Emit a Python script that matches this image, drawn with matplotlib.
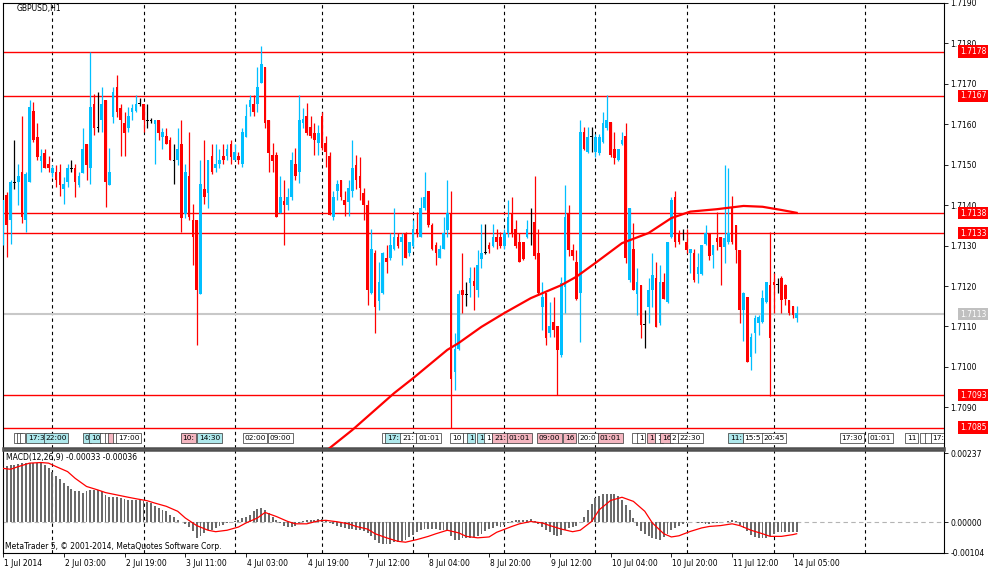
import matplotlib
matplotlib.use("Agg")
import matplotlib.pyplot as plt
import matplotlib.transforms as mtransforms
import numpy as np

# prices are kept in pips above 1.7080
BASE = 1.7080
PIP = 0.0001

opens = [
    54.6, 62.5, 56.3, 65.6, 65.8, 68.1, 56.3, 65.8, 83.3, 76.9,
    71.0, 73.0, 70.1, 68.0, 68.1, 68.1, 63.9, 65.8, 69.1, 69.1,
    64.9, 68.0, 75.1, 69.1, 85.1, 79.2, 81.0, 86.0, 65.0, 81.8,
    89.1, 84.1, 80.2, 79.2, 83.1, 83.3, 85.1, 85.1, 81.0, 80.9,
    80.0, 81.0, 76.9, 77.1, 76.2, 71.1, 71.1, 75.2, 57.9, 67.2,
    56.3, 56.3, 38.1, 64.1, 63.0, 72.1, 69.1, 70.1, 72.1, 72.1,
    75.1, 71.1, 72.1, 70.1, 76.9, 84.3, 85.1, 85.1, 90.1, 94.2,
    81.0, 72.3, 72.3, 58.0, 61.1, 60.1, 62.1, 70.2, 68.3, 80.3,
    82.1, 79.4, 77.9, 75.3, 82.1, 75.3, 72.2, 57.0, 63.4, 66.1,
    61.3, 60.9, 63.4, 70.0, 67.2, 63.1, 60.1, 38.2, 48.1, 36.2,
    38.2, 46.9, 46.9, 49.1, 52.2, 51.0, 53.2, 48.1, 49.9, 54.0,
    52.2, 59.2, 63.4, 55.1, 50.2, 46.9, 49.1, 53.8, 58.1, 18.8,
    24.3, 39.0, 37.7, 40.8, 41.3, 39.0, 46.6, 48.1, 50.2, 49.9,
    52.2, 52.2, 49.9, 53.2, 58.1, 54.2, 50.9, 50.9, 52.2, 54.0,
    55.9, 48.1, 34.9, 38.2, 28.3, 31.2, 30.1, 23.0, 39.8, 58.0,
    48.9, 46.0, 38.2, 78.1, 73.2, 76.9, 73.2, 72.8, 75.7, 79.0,
    80.6, 74.0, 71.2, 75.1, 77.1, 41.5, 49.1, 38.0, 40.3, 30.4,
    34.9, 39.0, 41.9, 30.8, 41.1, 36.1, 52.2, 62.1, 53.0, 51.3,
    50.9, 48.1, 48.1, 42.9, 42.9, 50.5, 53.0, 47.6, 51.8, 52.2,
    49.7, 50.9, 59.6, 55.1, 48.9, 34.1, 37.2, 22.5, 28.3, 30.8,
    31.2, 36.1, 40.2, 41.1, 40.2, 42.1, 40.3, 36.5, 35.0, 32.0,
]
highs = [
    61.2, 63.3, 66.2, 76.2, 70.1, 82.0, 68.2, 86.0, 85.5, 80.2,
    74.0, 74.0, 72.1, 69.9, 69.9, 70.1, 67.0, 70.1, 71.1, 70.1,
    68.2, 79.2, 75.2, 97.9, 87.6, 88.0, 89.1, 86.1, 74.1, 89.3,
    92.1, 85.1, 83.1, 84.3, 85.1, 87.2, 86.5, 85.1, 85.1, 81.5,
    81.0, 81.0, 79.2, 79.2, 76.9, 75.2, 79.2, 81.0, 70.1, 78.1,
    60.4, 56.3, 71.1, 76.2, 71.1, 75.1, 75.2, 74.0, 75.2, 75.1,
    76.2, 75.1, 73.1, 79.2, 85.1, 87.2, 87.2, 94.2, 99.4, 94.2,
    81.0, 75.3, 73.2, 67.2, 66.1, 64.2, 73.2, 74.1, 87.3, 84.0,
    85.2, 82.1, 80.3, 79.8, 83.1, 77.0, 73.2, 63.4, 66.1, 66.1,
    63.4, 66.1, 76.1, 72.4, 72.0, 64.2, 61.3, 54.0, 48.9, 46.0,
    48.3, 50.2, 53.2, 59.2, 53.2, 53.2, 53.4, 51.0, 56.3, 58.2,
    62.1, 68.3, 63.4, 55.5, 51.0, 50.2, 57.1, 66.1, 63.4, 28.3,
    39.0, 48.1, 41.1, 44.8, 44.8, 49.0, 55.3, 55.3, 51.0, 55.3,
    54.2, 53.4, 54.2, 61.2, 62.1, 56.3, 53.0, 50.9, 56.3, 59.2,
    67.2, 54.0, 41.1, 38.2, 36.1, 37.2, 30.1, 42.3, 65.1, 60.0,
    50.5, 48.9, 81.0, 79.4, 79.4, 79.4, 77.5, 77.7, 83.1, 87.2,
    80.6, 78.1, 74.0, 78.1, 80.2, 59.2, 55.5, 44.4, 40.3, 34.0,
    41.9, 48.1, 46.0, 45.2, 43.2, 50.9, 62.1, 63.4, 53.8, 54.0,
    54.0, 49.1, 49.1, 48.1, 50.2, 55.1, 53.0, 50.1, 58.4, 52.2,
    69.9, 69.1, 62.3, 55.1, 48.9, 38.6, 37.2, 28.3, 32.9, 32.9,
    39.0, 41.1, 53.3, 43.1, 42.1, 42.5, 40.4, 36.5, 35.0, 35.0,
]
lows = [
    50.1, 47.2, 50.3, 64.1, 60.0, 55.5, 53.4, 65.8, 75.7, 71.1,
    68.2, 69.1, 68.2, 67.0, 64.5, 62.2, 60.4, 64.5, 68.2, 62.1,
    64.5, 68.0, 66.2, 65.2, 77.3, 78.1, 78.1, 59.6, 64.9, 80.4,
    81.8, 72.1, 72.1, 78.1, 81.0, 83.1, 84.5, 78.1, 79.2, 80.2,
    70.1, 76.1, 74.0, 75.1, 71.1, 65.2, 69.9, 53.4, 56.7, 56.3,
    45.2, 25.4, 38.1, 60.4, 59.3, 67.8, 68.2, 69.1, 70.1, 71.1,
    70.1, 71.1, 70.1, 69.5, 76.9, 82.0, 82.0, 83.1, 90.1, 79.2,
    68.2, 68.3, 57.1, 58.0, 50.1, 58.8, 61.3, 66.2, 65.4, 79.0,
    77.4, 76.5, 72.4, 72.4, 73.7, 69.5, 57.6, 56.3, 61.3, 61.3,
    57.3, 57.3, 62.1, 63.9, 61.3, 56.3, 35.3, 38.0, 28.3, 34.1,
    38.0, 43.2, 46.5, 48.9, 49.3, 45.2, 46.9, 47.3, 49.7, 52.2,
    52.2, 58.8, 54.7, 48.9, 45.2, 46.9, 49.1, 52.2, 5.0, 14.2,
    24.1, 33.2, 35.0, 37.3, 34.1, 37.3, 44.4, 48.0, 48.1, 49.7,
    49.1, 49.3, 49.1, 52.2, 52.2, 49.3, 46.0, 46.4, 51.8, 50.1,
    46.8, 37.8, 29.1, 25.4, 27.5, 27.5, 13.1, 22.5, 33.2, 47.3,
    46.5, 36.5, 26.2, 73.6, 72.8, 73.2, 72.0, 72.4, 75.3, 78.6,
    72.0, 70.3, 70.8, 74.8, 45.6, 41.1, 39.0, 32.9, 27.1, 24.6,
    30.8, 34.9, 29.9, 30.4, 36.9, 35.7, 51.8, 49.7, 50.5, 51.3,
    48.1, 43.2, 41.1, 40.7, 42.7, 50.1, 46.4, 44.4, 48.9, 40.3,
    45.6, 50.5, 50.5, 45.6, 30.8, 26.3, 21.1, 19.3, 23.4, 27.8,
    30.8, 35.7, 12.7, 33.2, 38.2, 33.2, 35.2, 32.8, 32.0, 31.2,
]
closes = [
    61.2, 55.0, 65.8, 65.8, 67.2, 57.1, 67.8, 84.3, 76.1, 71.9,
    72.1, 69.1, 69.1, 69.1, 66.2, 64.9, 65.2, 69.1, 69.0, 65.8,
    67.2, 74.0, 69.9, 84.3, 79.0, 79.3, 85.1, 65.8, 68.2, 88.0,
    83.1, 81.0, 77.9, 82.0, 84.1, 85.1, 85.2, 81.0, 80.9, 81.0,
    81.0, 77.9, 78.1, 75.1, 71.1, 71.0, 74.0, 56.7, 68.2, 57.1,
    52.0, 39.0, 65.2, 62.1, 71.1, 68.2, 70.1, 71.1, 71.1, 74.0,
    71.9, 73.1, 71.1, 78.1, 82.0, 86.0, 83.1, 89.1, 95.0, 80.2,
    72.8, 70.8, 57.1, 61.9, 60.1, 61.9, 71.2, 67.2, 81.0, 81.2,
    77.9, 77.0, 76.0, 77.9, 74.1, 73.2, 57.6, 62.1, 65.2, 62.1,
    60.1, 64.2, 69.1, 66.1, 64.2, 60.1, 39.0, 49.1, 34.9, 41.1,
    48.1, 46.0, 50.2, 52.2, 49.9, 52.2, 46.9, 51.0, 54.0, 52.9,
    59.2, 62.1, 55.1, 49.1, 48.1, 49.1, 53.2, 58.1, 16.9, 24.3,
    38.1, 37.7, 37.8, 41.9, 39.9, 45.2, 48.1, 48.2, 49.1, 52.2,
    51.0, 49.9, 53.2, 57.1, 53.0, 49.9, 46.0, 46.6, 54.0, 54.1,
    47.3, 38.2, 37.2, 27.1, 30.1, 29.1, 24.2, 40.7, 57.1, 48.9,
    47.3, 36.9, 78.1, 74.0, 76.9, 77.0, 76.9, 76.9, 80.2, 81.0,
    72.4, 71.6, 74.0, 76.1, 46.9, 59.2, 39.0, 41.1, 30.4, 30.5,
    39.0, 42.7, 29.9, 41.1, 36.9, 50.9, 61.2, 50.9, 50.9, 51.4,
    48.9, 49.1, 41.6, 44.8, 50.2, 53.0, 47.3, 50.1, 50.9, 49.7,
    51.8, 53.0, 50.9, 48.9, 34.1, 38.2, 21.1, 27.5, 32.0, 32.4,
    37.0, 41.1, 27.1, 40.2, 40.3, 36.5, 36.9, 33.2, 32.8, 33.2,
]

# moving average (pips above BASE) at bar indices
ma_bars = [82, 86, 92, 103, 108, 117, 120, 126, 132, 139, 147, 151, 156,
           163, 170, 176, 181, 188, 195, 200, 205, 209]
ma_vals = [-3.2, -0.1, 4.4, 13.5, 17.2, 24.2, 25.9, 29.9, 33.3, 37.0, 40.2,
           42.3, 45.7, 50.6, 53.1, 56.8, 58.4, 59.0, 59.8, 59.6, 58.8, 58.1]

# MACD main (histogram) in units of 0.00001
macd_hist = [
    191, 193, 196, 198, 200, 202, 204, 205, 205, 205,
    202, 197, 187, 171, 159, 148, 134, 123, 114, 109,
    106, 100, 106, 111, 111, 110, 108, 94, 86, 86,
    86, 82, 80, 77, 77, 76, 75, 73, 71, 66,
    55, 48, 43, 38, 26, 17, 9, 2, -5, -16,
    -31, -53, -46, -36, -27, -25, -20, -14, -8, -2,
    2, 5, 9, 14, 18, 26, 38, 46, 49, 43,
    32, 20, 9, -2, -11, -16, -16, -14, -2, 5,
    7, 8, 9, 11, 11, 5, -2, -7, -11, -16,
    -20, -23, -23, -25, -27, -30, -36, -48, -59, -71,
    -75, -75, -73, -69, -66, -64, -59, -50, -42, -32,
    -25, -23, -23, -23, -23, -25, -27, -31, -48, -59,
    -59, -55, -53, -53, -50, -48, -39, -31, -23, -18,
    -14, -16, -9, -2, 3, 7, 7, 9, 9, 11,
    5, -5, -16, -25, -34, -43, -48, -42, -27, -20,
    -17, -14, 0, 18, 41, 64, 82, 91, 96, 98,
    98, 96, 91, 77, 60, 41, 14, -11, -31, -41,
    -48, -53, -57, -59, -50, -39, -27, -18, -11, -7,
    -2, 0, 0, -1, -2, -5, -5, -3, -2, 0,
    2, 6, 7, 3, -9, -20, -31, -43, -50, -53,
    -53, -52, -48, -39, -34, -34, -34, -34, -34, -34,
]
sig_bars = [0, 2, 4, 7, 10, 12, 14, 17, 19, 22, 25, 27, 30, 33, 35, 38, 40,
            43, 46, 48, 51, 54, 56, 59, 62, 64, 67, 69, 72, 75, 77, 80, 83,
            85, 88, 91, 93, 96, 98, 101, 104, 106, 109, 112, 114, 117, 120,
            122, 125, 128, 130, 134, 136, 139, 142, 144, 147, 150, 152, 155,
            157, 160, 163, 166, 169, 171, 174, 176, 178, 181, 184, 186, 189,
            192, 194, 197, 200, 202, 205, 208, 209]
sig_vals = [185, 182, 191, 203, 205, 203, 191, 174, 151, 123, 111, 102, 94,
            86, 81, 74, 66, 55, 38, 15, -11, -27, -32, -27, -16, -2, 15, 34,
            20, 3, -5, -5, 5, 7, 2, -5, -14, -23, -39, -53, -65, -68, -59,
            -48, -39, -27, -36, -48, -53, -50, -34, -14, -5, 3, -2, -11, -23,
            -32, -27, 3, 43, 75, 86, 72, 38, -2, -39, -50, -46, -31, -19, -14,
            -11, -5, -11, -27, -39, -48, -48, -42, -39]

levels = [1.7178, 1.7167, 1.7138, 1.7133, 1.7093, 1.7085]
bid = 1.7113

day_starts = [13, 37, 61, 84, 108, 132, 156, 180, 203, 227]
time_bars = [0, 16, 32, 48, 64, 80, 96, 112, 128, 144, 160, 176, 192, 208]
time_labels = ["1 Jul 2014", "2 Jul 03:00", "2 Jul 19:00", "3 Jul 11:00",
               "4 Jul 03:00", "4 Jul 19:00", "7 Jul 12:00", "8 Jul 04:00",
               "8 Jul 20:00", "9 Jul 12:00", "10 Jul 04:00", "10 Jul 20:00",
               "11 Jul 12:00", "14 Jul 05:00"]

# calendar events: bar position, label, importance kind
event_bars = [2.8, 3.6, 4.4, 6.2, 10.7, 21.0, 22.8, 25.7, 26.8, 27.8, 28.9,
              29.9, 46.8, 51.2, 63.1, 69.9, 99.9, 100.7, 104.7, 108.9, 117.8,
              121.2, 122.3, 124.9, 126.8, 128.9, 132.8, 140.7, 147.6, 151.5,
              156.8, 165.7, 167.0, 169.7, 171.8, 173.1, 175.7, 177.8, 191.0,
              194.9, 199.9, 220.4, 227.8, 237.6, 241.5, 242.8, 244.4]
event_text = [" ", " ", " ", "17:3", "22:00", "0", "10", " ", " ", " ", " ",
              "17:00", "10:", "14:30", "02:00", "09:00", " ", "17:", "21:",
              "01:01", "10", " ", "1", "1", "1", "21:", "01:01", "09:00", "16",
              "20:0", "01:01", " ", "1", "1", "1", "16", "2", "22:30", "11:",
              "15:5", "20:45", "17:30", "01:01", "11", " ", " ", "17:30"]
event_kind = ["w", "w", "w", "c", "c", "c", "c", "w", "w", "p", "w",
              "w", "p", "c", "w", "w", "w", "c", "w",
              "w", "w", "w", "c", "c", "w", "p", "p", "p", "p",
              "w", "p", "w", "w", "p", "w", "p", "w", "w", "c",
              "w", "w", "w", "w", "w", "w", "w", "w"]

plt.rcParams['font.family'] = ['DejaVu Sans']
FS = 5.5
UP, DOWN, FLAT = '#00BFFF', '#FF0000', '#000000'
KIND_COL = {"w": "#ffffff", "c": "#aee8ec", "p": "#f4b6c0"}

o = BASE + np.array(opens) * PIP
h = BASE + np.array(highs) * PIP
l = BASE + np.array(lows) * PIP
c = BASE + np.array(closes) * PIP
idx = np.arange(len(o))
cols = [UP if cc - oo > 0.25 * PIP else DOWN if oo - cc > 0.25 * PIP else FLAT
        for oo, cc in zip(o, c)]

W, H = 1000, 574
fig = plt.figure(figsize=(W / 100, H / 100), dpi=100)
ax = fig.add_axes([3 / W, 1 - 448 / H, 941 / W, 445 / H])
ax2 = fig.add_axes([3 / W, 1 - 553 / H, 941 / W, 103 / H])
XMAX = 247.8

# ---- price panel ----
ax.set_xlim(0, XMAX)
ax.set_ylim(1.707993, 1.718996)
for d in day_starts:
    ax.axvline(d, color='black', lw=0.8, ls=(0, (3, 3)), zorder=1)
for lv in levels:
    ax.axhline(lv, color='#ff0000', lw=1.0, zorder=2)
ax.axhline(bid, color='#c8c8c8', lw=1.5, zorder=1.5)

ax.vlines(idx, l, h, colors=cols, lw=0.9, zorder=3)
body_lo = np.minimum(o, c)
body_h = np.maximum(np.abs(c - o), 0.2 * PIP)
ax.bar(idx, body_h, width=0.7, bottom=body_lo, color=cols, lw=0, zorder=4)

ax.plot(ma_bars, BASE + np.array(ma_vals) * PIP, color='#ff0000', lw=1.6, zorder=5)

ax.yaxis.tick_right()
ax.set_yticks(np.round(np.arange(1.7090, 1.71905, 0.0010), 4))
ax.set_yticklabels([f"{v:.4f}" for v in np.arange(1.7090, 1.71905, 0.0010)])
ax.tick_params(axis='y', direction='out', length=3, width=0.6, pad=1.5,
               labelsize=FS, colors='black')
ax.tick_params(axis='x', bottom=False, labelbottom=False)
for s in ax.spines.values():
    s.set_linewidth(0.8)
ax.spines['bottom'].set_linewidth(1.8)
ax.spines['bottom'].set_color('#505050')

ax.text(14 / 941, 1 - 6 / 445, "GBPUSD,H1", transform=ax.transAxes,
        fontsize=FS, va='center', ha='left')

yb = mtransforms.blended_transform_factory(ax.transAxes, ax.transData)
for lv in levels:
    ax.text(1.017, lv, f"{lv:.4f}", transform=yb, fontsize=FS, color='white',
            va='center', ha='left', clip_on=False, zorder=6,
            bbox=dict(boxstyle='square,pad=0.2', fc='#ff0000', ec='none'))
ax.text(1.017, bid, f"{bid:.4f}", transform=yb, fontsize=FS, color='white',
        va='center', ha='left', clip_on=False, zorder=6,
        bbox=dict(boxstyle='square,pad=0.2', fc='#c0c0c0', ec='none'))

xb = mtransforms.blended_transform_factory(ax.transData, ax.transAxes)
for eb, et, ek in zip(event_bars, event_text, event_kind):
    ax.text(eb + 0.4, 0.0225, et, transform=xb, fontsize=5.3, va='center',
            ha='left', zorder=7, clip_on=True,
            bbox=dict(boxstyle='square,pad=0.22', fc=KIND_COL[ek],
                      ec='#303030', lw=0.5))

# ---- MACD panel ----
ax2.set_xlim(0, XMAX)
ax2.set_ylim(-0.00105, 0.00248)
ax2.axhline(0, color='#b4b4b4', lw=0.8, ls=(0, (4, 3)), zorder=1)
for d in day_starts:
    ax2.axvline(d, color='black', lw=0.8, ls=(0, (3, 3)), zorder=1)
ax2.bar(idx, np.array(macd_hist) * 1e-5, width=0.5, color='#6a6a6a', lw=0,
        zorder=2)
ax2.plot(sig_bars, np.array(sig_vals) * 1e-5, color='#ff0000', lw=0.9, zorder=3)

ax2.yaxis.tick_right()
ax2.set_yticks([-0.00104, 0.0, 0.00237])
ax2.set_yticklabels(["-0.00104", "0.00000", "0.00237"])
ax2.tick_params(axis='y', direction='out', length=3, width=0.6, pad=1.5,
                labelsize=FS)
ax2.set_xticks(time_bars)
ax2.set_xticklabels([])
ax2.tick_params(axis='x', direction='out', length=3, width=0.6)
for s in ax2.spines.values():
    s.set_linewidth(0.8)
ax2.spines['top'].set_linewidth(1.8)
ax2.spines['top'].set_color('#505050')

xb2 = mtransforms.blended_transform_factory(ax2.transData, ax2.transAxes)
for tb, tl in zip(time_bars, time_labels):
    ax2.text(tb + 0.3, -0.055, tl, transform=xb2, fontsize=FS, va='top',
             ha='left', clip_on=False)

ax2.text(3 / 941, 0.93, "MACD(12,26,9) -0.00033 -0.00036",
         transform=ax2.transAxes, fontsize=FS, va='center', ha='left')
ax2.text(2 / 941, 0.06, "MetaTrader 5, \u00a9 2001-2014, MetaQuotes Software Corp.",
         transform=ax2.transAxes, fontsize=FS, va='center', ha='left')

fig.savefig("out.png", dpi=100)
plt.close(fig)
